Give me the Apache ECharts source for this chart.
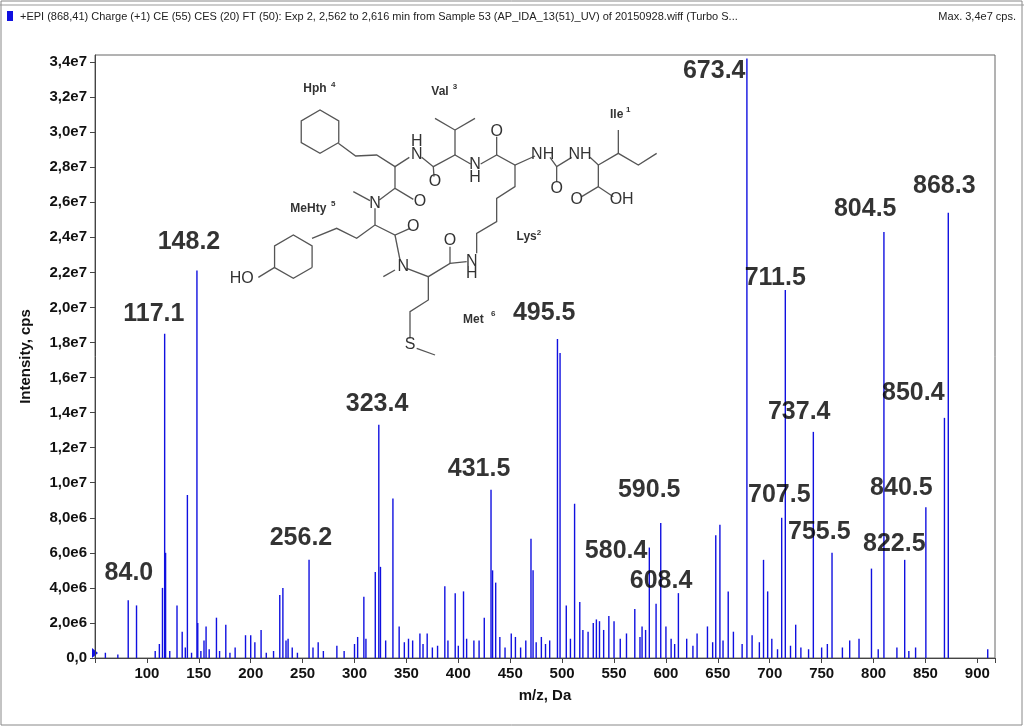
<!DOCTYPE html>
<html><head><meta charset="utf-8">
<script src="https://cdn.jsdelivr.net/npm/echarts@6/dist/echarts.min.js"></script>
<style>html,body{margin:0;padding:0;background:#fff}#c{width:1024px;height:727px}</style>
</head><body><div id="c"></div>
<script>
// m/z and intensity (in 1e6 cps)
const peakMz = [60,72,82,90,108,112,115,117.1,118,122,129,134,137,139,143,148.2,149,152,155,157,160,167,170,176,180,185,195,200,204,210,215,222,228,231,234,236,240,245,256.2,260,265,270,283,290,300,303,309,311,320,323.4,325,330,337,343,348,352,356,363,366,370,375,380,387,390,397,400,405,408,415,420,425,431.5,433,436,440,445,451,455,460,465,470,472,475,480,484,488,495.5,498,504,508,512,517,520,525,530,533,536,540,545,550,556,562,570,575,577,580.4,584,590.5,595,600,605,608.4,612,620,626,630,640,645,648,652,655,660,665,673.4,678,683,690,694,698,702,707.5,711.5,715,720,725,730,737.4,742,750,755.5,760,770,777,786,798,804.5,810,822.5,830,834,840.5,850.4,868.3,872,910];
const peakInt = [0.3,0.2,3.3,3.0,0.4,0.8,4.0,18.5,6.0,0.4,3.0,1.5,0.6,9.3,0.3,22.1,2.0,0.4,1.0,1.8,0.5,2.3,0.4,1.9,0.3,0.6,1.3,1.3,0.9,1.6,0.3,0.4,3.6,4.0,1.0,1.1,0.6,0.3,5.6,0.6,0.9,0.4,0.7,0.4,0.8,1.2,3.5,1.1,4.9,13.3,5.2,1.0,9.1,1.8,0.9,1.1,1.0,1.4,0.8,1.4,0.6,0.7,4.1,1.0,3.7,0.7,3.8,1.1,1.0,1.0,2.3,9.6,5.0,4.3,1.2,0.6,1.4,1.2,0.6,1.0,6.8,5.0,0.9,1.2,0.8,1.0,18.2,17.4,3.0,1.1,8.8,3.2,1.6,1.5,2.0,2.2,2.1,1.6,2.4,2.1,1.1,1.4,2.8,1.2,1.8,1.6,6.3,3.1,7.7,1.8,1.1,0.8,3.7,1.1,0.7,1.4,1.8,0.9,7.0,7.6,1.0,3.8,1.5,0.8,34.2,1.3,0.9,5.6,3.8,1.1,0.5,8.0,21.0,0.7,1.9,0.6,0.5,12.9,0.6,0.8,6.0,0.6,1.0,1.1,5.1,0.5,24.3,0.6,5.6,0.4,0.6,8.6,13.7,25.4,0.5,0.2];
const labelText = ["84.0","117.1","148.2","256.2","323.4","431.5","495.5","590.5","580.4","608.4","673.4","711.5","737.4","707.5","755.5","804.5","868.3","850.4","840.5","822.5"];
const labelMz = [82.7,106.7,140.5,248.4,321.7,420,482.7,583.9,552.0,595.3,646.5,705.3,728.4,709.2,747.7,792,868.2,838.3,826.8,820];
const labelInt = [4.85,19.6,23.7,6.85,14.5,10.8,19.7,9.6,6.1,4.4,33.5,21.7,14.0,9.3,7.2,25.6,26.9,15.1,9.7,6.5];
const yTicks = ["0,0","2,0e6","4,0e6","6,0e6","8,0e6","1,0e7","1,2e7","1,4e7","1,6e7","1,8e7","2,0e7","2,2e7","2,4e7","2,6e7","2,8e7","3,0e7","3,2e7","3,4e7"];

const chart = echarts.init(document.getElementById('c'));
const P = (zx,zy)=>[220+zx/3,70+zy/3];
const line = pts => ({type:'polyline',shape:{points:pts.map(p=>P(p[0],p[1]))},style:{stroke:'#555',lineWidth:1.3,fill:null},z:5});
const hex = (cx,cy,r,rot)=>{const pts=[];for(let i=0;i<=6;i++){const a=rot+i*Math.PI/3;pts.push([cx+r*Math.cos(a),cy+r*Math.sin(a)]);}return line(pts);};
const txt = (zx,zy,t,fs,bold)=>({type:'text',x:P(zx,zy)[0],y:P(zx,zy)[1],style:{text:t,fill:'#333',font:(bold?'bold ':'')+fs+'px Liberation Sans, Arial',align:'center',verticalAlign:'middle'},z:6});
const struct = [
  hex(300,185,65,Math.PI/6), hex(220,560,65,Math.PI/6),
  line([[355,220],[407,258],[470,255],[525,290],[568,262]]),
  line([[525,290],[525,355],[580,388]]), line([[525,355],[478,390]]),
  line([[605,262],[640,290],[705,255],[752,282]]), line([[640,290],[642,320]]),
  line([[705,255],[705,180],[645,145]]), line([[705,180],[765,145]]),
  line([[782,282],[830,255],[885,285],[945,258]]), line([[830,255],[830,200]]),
  line([[990,262],[1010,290],[1055,262]]), line([[1010,290],[1010,335]]),
  line([[1110,262],[1135,285],[1195,250],[1255,285],[1310,250]]), line([[1195,250],[1195,180]]),
  line([[1135,285],[1135,350],[1085,380]]), line([[1135,350],[1180,380]]),
  line([[885,285],[885,350],[830,385],[830,455],[770,490],[770,550]]),
  line([[450,392],[400,365]]), line([[465,415],[465,465],[410,505],[350,475],[276,505]]),
  line([[465,465],[525,495],[570,475]]), line([[525,495],[540,570]]),
  line([[525,600],[490,620]]), line([[560,595],[625,620],[690,580],[740,575]]), line([[690,580],[690,530]]),
  line([[625,620],[625,690],[570,725],[570,805]]), line([[590,835],[645,855]]),
  line([[164,592],[115,622]]),
  txt(590,255,'N',16), txt(590,215,'H',16), txt(645,335,'O',16), txt(765,285,'N',16), txt(765,322,'H',16),
  txt(830,185,'O',16), txt(968,255,'NH',16), txt(1010,355,'O',16), txt(1080,255,'NH',16),
  txt(1070,390,'O',16), txt(1205,390,'OH',16), txt(600,395,'O',16), txt(465,400,'N',16),
  txt(580,470,'O',16), txt(550,590,'N',16), txt(690,512,'O',16), txt(755,575,'N',16), txt(755,610,'H',16),
  txt(570,825,'S',16), txt(65,625,'HO',16),
  txt(285,55,'Hph',12,true), txt(340,45,'4',8,true), txt(660,65,'Val',12,true), txt(705,50,'3',8,true),
  txt(1190,135,'Ile',12,true), txt(1225,120,'1',8,true), txt(265,415,'MeHty',12,true), txt(340,400,'5',8,true),
  txt(920,500,'Lys',12,true), txt(957,488,'2',8,true), txt(760,750,'Met',12,true), txt(820,732,'6',8,true)
];
chart.setOption({
  animation:false,
  grid:{left:95,right:29,top:55,bottom:69,show:true,borderColor:'#666',borderWidth:1},
  xAxis:{type:'value',min:50,max:917,interval:50,name:'m/z, Da',nameLocation:'middle',nameGap:30,
    nameTextStyle:{fontSize:15,fontWeight:'bold',color:'#111',fontFamily:'Liberation Sans'},
    axisLine:{lineStyle:{color:'#444'}},axisTick:{show:true,lineStyle:{color:'#444'}},splitLine:{show:false},
    axisLabel:{fontSize:15,fontWeight:'bold',color:'#111',fontFamily:'Liberation Sans',
      formatter:v=>(v===50||v%50!==0)?'':String(v)}},
  yAxis:{type:'value',min:0,max:34.4,interval:2,name:'Intensity, cps',nameLocation:'middle',nameGap:62,
    nameTextStyle:{fontSize:15,fontWeight:'bold',color:'#111',fontFamily:'Liberation Sans'},
    axisLine:{show:true,lineStyle:{color:'#444'}},axisTick:{show:true,lineStyle:{color:'#444'}},splitLine:{show:false},
    axisLabel:{fontSize:15,fontWeight:'bold',color:'#111',fontFamily:'Liberation Sans',
      formatter:v=>{const i=Math.round(v/2);return yTicks[i]||'';}}},
  series:[
    {type:'bar',barWidth:1.4,barGap:'-100%',itemStyle:{color:'#1010e0'},data:peakMz.map((m,i)=>[m,peakInt[i]])},
    {type:'scatter',symbolSize:0,data:labelMz.map((m,i)=>[m,labelInt[i]]),
     label:{show:true,position:'inside',formatter:p=>labelText[p.dataIndex],fontSize:25,fontWeight:'bold',color:'#000',
       fontFamily:'Liberation Sans'},z:10}
  ],
  graphic:[
    {type:'rect',shape:{x:1,y:1,width:1021,height:724},style:{fill:null,stroke:'#888',lineWidth:1}},
    {type:'line',shape:{x1:0,y1:5,x2:1024,y2:5},style:{stroke:'#999'}},
    {type:'rect',shape:{x:7,y:11,width:6,height:10},style:{fill:'#1010e0'}},
    {type:'text',x:20,y:17,style:{text:'+EPI (868,41) Charge (+1) CE (55) CES (20) FT (50): Exp 2, 2,562 to 2,616 min from Sample 53 (AP_IDA_13(51)_UV) of 20150928.wiff (Turbo S...',fill:'#222',font:'11px Liberation Sans',verticalAlign:'middle'}},
    {type:'text',x:1016,y:17,style:{text:'Max. 3,4e7 cps.',fill:'#222',font:'11px Liberation Sans',align:'right',verticalAlign:'middle'}},
    {type:'polygon',shape:{points:[[92,648],[98,653],[92,658]]},style:{fill:'#1010e0'}},
    ...struct
  ]
});
</script></body></html>
